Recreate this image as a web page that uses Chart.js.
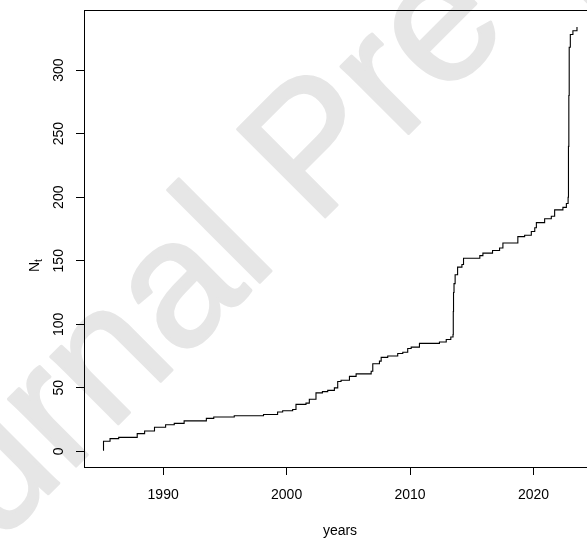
<!DOCTYPE html>
<html>
<head>
<meta charset="utf-8">
<script src="https://cdn.jsdelivr.net/npm/chart.js@4/dist/chart.umd.min.js"></script>
<style>
  html, body { margin: 0; padding: 0; background: #ffffff; overflow: hidden; }
  #wrap { width: 610px; height: 540px; }
</style>
</head>
<body>
<div id="wrap"><canvas id="c" width="610" height="540"></canvas></div>
<script>
// Event times (years) and cumulative count N_t after each event
const eventYears = [1985.13, 1985.17, 1985.7, 1986.4, 1987.9, 1988.5, 1989.3, 1990.2, 1990.9, 1991.7,
  1993.5, 1994.1, 1995.76, 1998.13, 1999.27, 1999.68, 2000.49, 2000.76, 2001.57, 2001.84,
  2002.38, 2002.9, 2003.33, 2003.87, 2004.14, 2004.41, 2005.09, 2005.63, 2006.85, 2006.98,
  2007.52, 2007.66, 2008.19, 2009.0, 2009.41, 2009.81, 2010.09, 2010.76, 2012.38, 2012.93,
  2013.3, 2013.48, 2013.5, 2013.52, 2013.56, 2013.65, 2013.85, 2014.2, 2014.33, 2015.65,
  2015.9, 2016.68, 2017.25, 2017.52, 2018.73, 2019.28, 2019.82, 2020.1, 2020.23, 2020.9,
  2021.44, 2021.71, 2022.38, 2022.66, 2022.8, 2022.83, 2022.86, 2022.89, 2022.98, 2023.19,
  2023.52];
const cumulativeCount = [1, 8, 10, 11, 14, 16, 19, 21, 22, 24,
  26, 27, 28, 29, 31, 32, 33, 37, 38, 41,
  46, 47, 48, 50, 55, 56, 59, 61, 63, 69,
  71, 74, 75, 77, 78, 81, 82, 85, 86, 88,
  90, 92, 110, 125, 132, 139, 145, 147, 152, 154,
  156, 158, 160, 164, 169, 170, 173, 176, 180, 183,
  185, 190, 192, 195, 200, 240, 280, 318, 328, 331,
  334];
const xTickYears = [1990, 2000, 2010, 2020];
const yTickValues = [0, 50, 100, 150, 200, 250, 300];
const xTitle = 'years';
const yTitleMain = 'N';
const yTitleSub = 't';
const watermarkText = 'Journal Pre-proof';

const FONT = '"Liberation Sans", Arial, Helvetica, sans-serif';

const points = eventYears.map((t, i) => ({ x: t, y: cumulativeCount[i] }));

const watermark = {
  id: 'watermark',
  beforeDraw(chart) {
    const ctx = chart.ctx;
    ctx.save();
    ctx.translate(-138, 680);
    ctx.rotate(-Math.PI / 4);
    ctx.font = '180px ' + FONT;
    ctx.fillStyle = '#e6e6e6';
    ctx.strokeStyle = '#e6e6e6';
    ctx.lineWidth = 3;
    ctx.lineJoin = 'round';
    ctx.textBaseline = 'alphabetic';
    ctx.textAlign = 'left';
    ctx.fillText(watermarkText, 0, 0);
    ctx.strokeText(watermarkText, 0, 0);
    ctx.restore();
  }
};

const boxAndLabels = {
  id: 'boxAndLabels',
  afterDraw(chart) {
    const ctx = chart.ctx;
    const a = chart.chartArea;
    ctx.save();
    ctx.strokeStyle = '#000';
    ctx.lineWidth = 1;
    ctx.strokeRect(Math.round(a.left) + 0.5, Math.round(a.top) + 0.5,
      Math.round(a.right - a.left), Math.round(a.bottom - a.top));
    // rotated y tick labels
    const ys = chart.scales.y;
    ctx.fillStyle = '#000';
    ctx.font = '14px ' + FONT;
    ctx.textAlign = 'center';
    ctx.textBaseline = 'middle';
    ys.ticks.forEach(t => {
      const py = ys.getPixelForValue(t.value);
      ctx.save();
      ctx.translate(59, py);
      ctx.rotate(-Math.PI / 2);
      ctx.fillText(String(t.value), 0, 0);
      ctx.restore();
    });
    // y title N_t
    ctx.save();
    ctx.translate(34, 266);
    ctx.rotate(-Math.PI / 2);
    ctx.textAlign = 'left';
    ctx.textBaseline = 'alphabetic';
    ctx.font = '14px ' + FONT;
    const wN = ctx.measureText(yTitleMain).width;
    ctx.fillText(yTitleMain, -6, 5);
    ctx.font = '10px ' + FONT;
    ctx.fillText(yTitleSub, -6 + wN, 8);
    ctx.restore();
    ctx.restore();
  }
};

new Chart(document.getElementById('c'), {
  type: 'line',
  data: {
    datasets: [{
      data: points,
      borderColor: '#000',
      borderWidth: 1.1,
      stepped: true,
      pointRadius: 0,
      fill: false,
      tension: 0
    }]
  },
  options: {
    responsive: false,
    animation: false,
    events: [],
    layout: { padding: { top: 10, left: 0, right: 14, bottom: 0 } },
    plugins: { legend: { display: false }, tooltip: { enabled: false }, title: { display: false } },
    scales: {
      x: {
        type: 'linear',
        min: 1983.59,
        max: 2025.06,
        afterBuildTicks(scale) { scale.ticks = xTickYears.map(v => ({ value: v })); },
        afterFit(scale) { scale.height = 73; },
        grid: { drawOnChartArea: false, drawTicks: true, tickLength: 8, color: '#000', lineWidth: 1 },
        border: { display: true, color: '#000', width: 1 },
        ticks: {
          color: '#000',
          font: { family: FONT, size: 14 },
          padding: 12,
          maxRotation: 0,
          autoSkip: false,
          callback: v => String(v)
        },
        title: {
          display: true,
          text: xTitle,
          color: '#000',
          font: { family: FONT, size: 14 },
          padding: { top: 14, bottom: 0 }
        }
      },
      y: {
        type: 'linear',
        min: -12.3,
        max: 347.3,
        afterBuildTicks(scale) { scale.ticks = yTickValues.map(v => ({ value: v })); },
        afterFit(scale) { scale.width = 84; },
        grid: { drawOnChartArea: false, drawTicks: true, tickLength: 8, color: '#000', lineWidth: 1 },
        border: { display: true, color: '#000', width: 1 },
        ticks: { display: false }
      }
    }
  },
  plugins: [watermark, boxAndLabels]
});
</script>
</body>
</html>
